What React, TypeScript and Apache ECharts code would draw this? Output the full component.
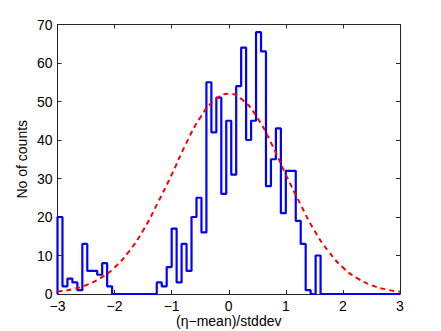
import React, { useEffect, useRef } from "react";
import * as echarts from "echarts";

// Histogram: 69 equal bins spanning -3 .. 3
const binStart = -3;
const binEnd = 3;
const counts = [
  20, 2, 4, 3, 1, 13, 6, 6, 5, 8, 2,
  0, 0, 0, 0, 0, 0, 0, 0, 0,
  3, 2, 7, 17, 3, 13, 6, 20, 25, 16,
  55, 42, 51, 26, 45, 31, 54, 64, 40, 45,
  68, 63, 28, 35, 43, 21, 32, 32, 19, 13,
  1, 0, 10,
  0, 0, 0, 0, 0, 0, 0, 0, 0, 0, 0, 0, 0, 0, 0, 0,
];

// Fitted normal curve
const curveX = [-3, -2.75, -2.5, -2.25, -2, -1.75, -1.5, -1.25, -1, -0.75, -0.5, -0.25, 0, 0.25, 0.5, 0.75, 1, 1.25, 1.5, 1.75, 2, 2.25, 2.5, 2.75, 3];
const curveY = [0.6, 1.2, 2.3, 4.1, 6.9, 11.0, 16.5, 23.5, 31.0, 39.0, 45.8, 50.3, 52.0, 50.3, 45.8, 39.0, 31.0, 23.5, 16.5, 11.0, 6.9, 4.1, 2.3, 1.2, 0.6];

const xTicks = [-3, -2, -1, 0, 1, 2, 3];
const yTicks = [0, 10, 20, 30, 40, 50, 60, 70];

const xTitle = "(η−mean)/stddev";
const yTitle = "No of counts";

export default function App() {
  const ref = useRef<HTMLDivElement>(null);
  useEffect(() => {
    if (!ref.current) return;
    const chart = echarts.init(ref.current, null, { renderer: "svg" });
    const w = (binEnd - binStart) / counts.length;
    const histPts: number[][] = [[binStart, 0]];
    counts.forEach((c, i) => {
      histPts.push([binStart + i * w, c]);
      histPts.push([binStart + (i + 1) * w, c]);
    });
    const curvePts = curveX.map((x, i) => [x, curveY[i]]);
    const font = "'Liberation Sans', Arial, Helvetica, sans-serif";
    const axisColor = "#262626";
    const fmt = (v: number) => String(v).replace("-", "\u2212");
    const commonX = {
      type: "value" as const,
      min: xTicks[0],
      max: xTicks[xTicks.length - 1],
      interval: 1,
      splitLine: { show: false },
      axisLine: { show: true, onZero: false, lineStyle: { color: axisColor, width: 1 } },
      axisTick: { show: true, inside: true, length: 4, lineStyle: { color: axisColor } },
    };
    const commonY = {
      type: "value" as const,
      min: yTicks[0],
      max: yTicks[yTicks.length - 1],
      interval: 10,
      splitLine: { show: false },
      axisLine: { show: true, onZero: false, lineStyle: { color: axisColor, width: 1 } },
      axisTick: { show: true, inside: true, length: 4, lineStyle: { color: axisColor } },
    };
    chart.setOption({
      animation: false,
      backgroundColor: "#ffffff",
      grid: {
        left: 57.5,
        top: 24.5,
        width: 342.5,
        height: 269.5,
        containLabel: false,
        outerBoundsMode: "none",
      },
      xAxis: [
        {
          ...commonX,
          position: "bottom",
          name: xTitle,
          nameLocation: "middle",
          nameGap: 20,
          nameMoveOverlap: false,
          nameTextStyle: { fontFamily: font, fontSize: 14, color: "#000", lineHeight: 14 },
          axisLabel: { fontFamily: font, fontSize: 14, color: "#000", margin: 5, lineHeight: 14, formatter: fmt },
        },
        {
          ...commonX,
          position: "top",
          axisLabel: { show: false },
        },
      ],
      yAxis: [
        {
          ...commonY,
          position: "left",
          name: yTitle,
          nameLocation: "middle",
          nameGap: 29,
          nameMoveOverlap: false,
          nameRotate: 90,
          nameTextStyle: { fontFamily: font, fontSize: 14, color: "#000" },
          axisLabel: { fontFamily: font, fontSize: 14, color: "#000", margin: 5, formatter: fmt },
        },
        {
          ...commonY,
          position: "right",
          axisLabel: { show: false },
        },
      ],
      series: [
        {
          type: "line",
          data: curvePts,
          smooth: true,
          showSymbol: false,
          symbol: "none",
          lineStyle: { color: "#ff0000", width: 2, type: [5, 4] },
          z: 3,
        },
        {
          type: "line",
          data: histPts,
          showSymbol: false,
          symbol: "none",
          lineStyle: { color: "#0000ff", width: 2.2 },
          z: 2,
        },
      ],
    });
    return () => chart.dispose();
  }, []);
  return (
    <div
      ref={ref}
      style={{ position: "fixed", left: 0, top: 0, width: 441, height: 331, background: "#fff" }}
    />
  );
}
